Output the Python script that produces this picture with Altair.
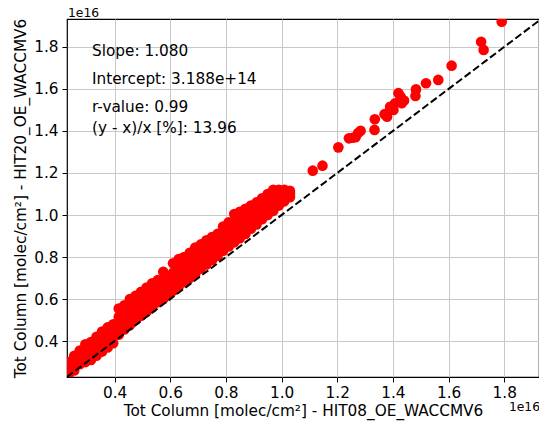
import altair as alt
import pandas as pd

# Values in units of 1e16 molec/cm2
band_x = [0.235, 0.255, 0.275, 0.295, 0.315, 0.335, 0.355, 0.375, 0.395, 0.415,
          0.435, 0.455, 0.475, 0.495, 0.515, 0.535, 0.555, 0.575, 0.595, 0.61,
          0.63, 0.65, 0.67, 0.69, 0.71, 0.73, 0.75, 0.77, 0.79, 0.81,
          0.83, 0.85, 0.87, 0.89, 0.91, 0.93, 0.95, 0.97, 0.99, 1.01, 1.03]
band_upper = [0.30, 0.33, 0.355, 0.385, 0.395, 0.42, 0.445, 0.465, 0.48, 0.555,
              0.57, 0.60, 0.615, 0.635, 0.655, 0.675, 0.69, 0.73, 0.705, 0.77,
              0.79, 0.80, 0.82, 0.845, 0.86, 0.88, 0.895, 0.91, 0.945, 0.965,
              1.005, 1.015, 1.03, 1.045, 1.06, 1.08, 1.10, 1.12, 1.12, 1.12, 1.115]
band_mid_hi = [0.28, 0.305, 0.335, 0.355, 0.365, 0.39, 0.415, 0.435, 0.45, 0.515,
               0.53, 0.56, 0.575, 0.595, 0.615, 0.635, 0.655, 0.685, 0.68, 0.725,
               0.745, 0.76, 0.78, 0.805, 0.82, 0.84, 0.86, 0.875, 0.905, 0.925,
               0.96, 0.975, 0.99, 1.01, 1.025, 1.045, 1.065, 1.085, 1.095, 1.10, 1.105]
band_mid_lo = [0.26, 0.285, 0.31, 0.33, 0.34, 0.36, 0.38, 0.40, 0.42, 0.47,
               0.495, 0.515, 0.54, 0.56, 0.58, 0.60, 0.62, 0.645, 0.65, 0.685,
               0.705, 0.72, 0.74, 0.76, 0.785, 0.805, 0.82, 0.84, 0.87, 0.89,
               0.915, 0.93, 0.95, 0.97, 0.99, 1.015, 1.035, 1.05, 1.07, 1.085, 1.095]
band_lower = [0.24, 0.26, 0.29, 0.30, 0.31, 0.33, 0.35, 0.37, 0.39, 0.43,
              0.455, 0.475, 0.50, 0.52, 0.54, 0.56, 0.585, 0.60, 0.625, 0.64,
              0.66, 0.68, 0.70, 0.72, 0.745, 0.765, 0.785, 0.805, 0.83, 0.85,
              0.87, 0.89, 0.91, 0.935, 0.955, 0.98, 1.00, 1.02, 1.045, 1.065, 1.085]

sparse_x = [1.791, 1.717, 1.726, 1.611, 1.563, 1.519, 1.483, 1.481, 1.428, 1.432,
            1.408, 1.402, 1.379, 1.335, 1.334, 1.284, 1.266, 1.242, 1.204, 1.147,
            1.112, 1.420, 1.440, 1.390, 1.370, 1.275, 1.255]
sparse_y = [1.920, 1.825, 1.786, 1.711, 1.643, 1.627, 1.598, 1.567, 1.563, 1.532,
            1.532, 1.500, 1.468, 1.456, 1.405, 1.401, 1.370, 1.365, 1.322, 1.235,
            1.211, 1.580, 1.545, 1.515, 1.480, 1.390, 1.368]

x_ticks = [0.4, 0.6, 0.8, 1.0, 1.2, 1.4, 1.6, 1.8]
y_ticks = [0.4, 0.6, 0.8, 1.0, 1.2, 1.4, 1.6, 1.8]
x_domain = [0.229, 1.925]
y_domain = [0.229, 1.933]
diag = [0.229, 1.933]
stats_lines = ["Slope: 1.080", "Intercept: 3.188e+14", "r-value: 0.99",
               "(y - x)/x [%]: 13.96"]
x_title = "Tot Column [molec/cm²] - HIT08_OE_WACCMV6"
y_title = "Tot Column [molec/cm²] - HIT20_OE_WACCMV6"
offset_label = "1e16"

W, H = 472, 358
FONT = "DejaVu Sans"
FS = 15.3

pts = pd.DataFrame({
    "x": band_x * 4 + sparse_x,
    "y": band_upper + band_mid_hi + band_mid_lo + band_lower + sparse_y,
})

xs = alt.Scale(domain=x_domain, nice=False, zero=False)
ys = alt.Scale(domain=y_domain, nice=False, zero=False)

points = alt.Chart(pts).mark_circle(size=113, color="#ff0000", opacity=1, clip=True).encode(
    x=alt.X("x:Q", scale=xs,
            axis=alt.Axis(values=x_ticks, format=".1f", title=x_title,
                          labelPadding=3, titlePadding=3)),
    y=alt.Y("y:Q", scale=ys,
            axis=alt.Axis(values=y_ticks, format=".1f", title=y_title,
                          labelPadding=4, titlePadding=5)),
)

line = alt.Chart(pd.DataFrame({"x": diag, "y": diag})).mark_line(
    color="black", strokeDash=[7.4, 3.2], strokeWidth=2, clip=True
).encode(x="x:Q", y="y:Q")

layers = [points, line]
text_y = [31.5, 60, 88, 109]
for s, ty in zip(stats_lines, text_y):
    layers.append(
        alt.Chart(pd.DataFrame({"t": [s]})).mark_text(
            align="left", baseline="middle", font=FONT, fontSize=FS, color="black"
        ).encode(text="t:N", x=alt.value(25), y=alt.value(ty))
    )

layers.append(
    alt.Chart(pd.DataFrame({"t": [offset_label]})).mark_text(
        align="left", baseline="alphabetic", font=FONT, fontSize=12.3, color="black"
    ).encode(text="t:N", x=alt.value(1), y=alt.value(-2))
)
layers.append(
    alt.Chart(pd.DataFrame({"t": [offset_label]})).mark_text(
        align="right", baseline="middle", font=FONT, fontSize=12.3, color="black"
    ).encode(text="t:N", x=alt.value(W + 1), y=alt.value(H + 29.5))
)

chart = alt.layer(*layers).properties(
    width=W, height=H,
    autosize=alt.AutoSizeParams(type="none"),
    padding={"left": 59, "top": 11, "right": 0, "bottom": 46},
).configure_view(
    stroke="black", strokeWidth=1.2
).configure_axis(
    labelFont=FONT, labelFontSize=FS, labelColor="black",
    titleFont=FONT, titleFontSize=FS, titleColor="black", titleFontWeight="normal",
    tickColor="black", tickSize=5, tickWidth=1,
    domain=False,
    gridColor="#c8c8c8", gridWidth=1,
)

chart.save("out.html", embed_options={"renderer": "svg", "actions": False})
